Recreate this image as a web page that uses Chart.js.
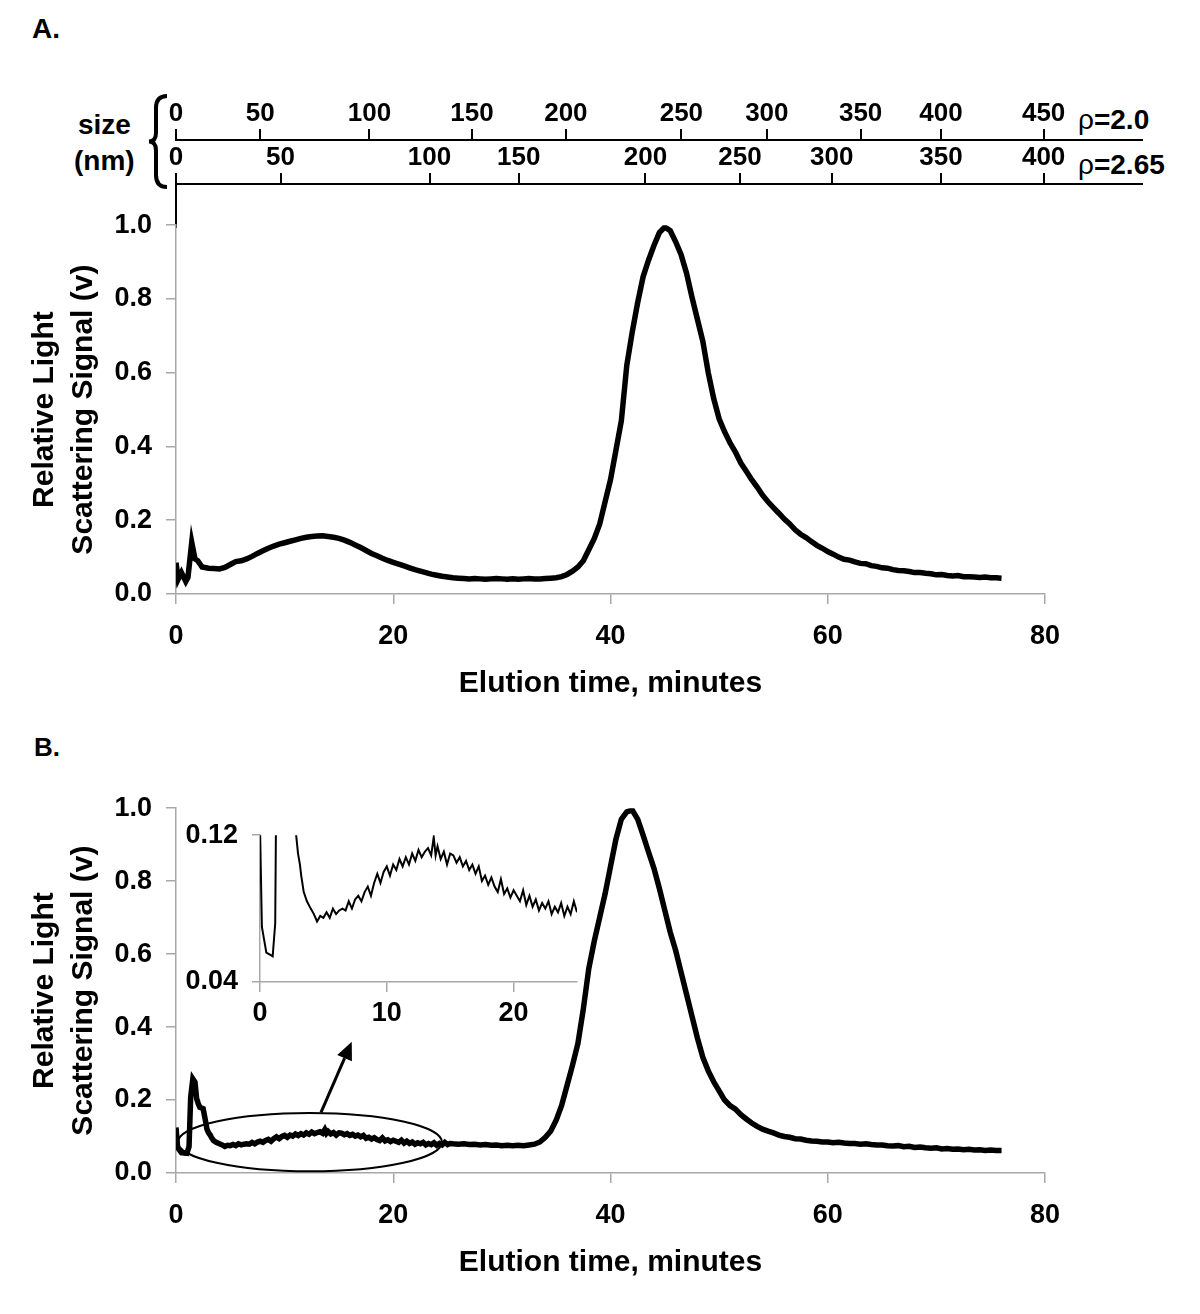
<!DOCTYPE html>
<html>
<head>
<meta charset="utf-8">
<script src="https://cdn.jsdelivr.net/npm/chart.js@4.4.1/dist/chart.umd.min.js"></script>
<style>
body { margin: 0; background: #fff; width: 1200px; height: 1314px; position: relative; overflow: hidden;
       font-family: "Liberation Sans", Arial, sans-serif; }
canvas { position: absolute; }
.lbl { position: absolute; font-weight: bold; line-height: 1; white-space: nowrap; color: #000; }
</style>
</head>
<body>
<div class="lbl" style="left:32px;top:15px;font-size:28px">A.</div>
<div class="lbl" style="left:34px;top:734px;font-size:26px">B.</div>
<div class="lbl" style="left:78px;top:111px;font-size:28px">size</div>
<div class="lbl" style="left:74px;top:147px;font-size:28px">(nm)</div>
<div class="lbl" style="left:1078px;top:106px;font-size:28px"><span style="font-weight:normal">&rho;</span>=2.0</div>
<div class="lbl" style="left:1078px;top:151px;font-size:28px"><span style="font-weight:normal">&rho;</span>=2.65</div>

<canvas id="sizeAxes" width="1200" height="138" style="left:0;top:90px"></canvas>
<canvas id="chartA" width="1200" height="520" style="left:0;top:195px"></canvas>
<canvas id="chartB" width="1200" height="516" style="left:0;top:778px"></canvas>
<canvas id="inset" width="430" height="230" style="left:170px;top:805px"></canvas>

<script>
// panel A trace (elution time in minutes, relative signal)
const aTime = [0, 0.2, 0.5, 0.9, 1.1, 1.45, 1.75, 2, 2.4, 3,
    3.5, 4, 4.5, 5, 5.5, 6, 6.5, 7, 7.5, 8, 8.5, 9, 9.5, 10,
    10.5, 11, 11.5, 12, 12.5, 13, 13.5, 14, 14.5, 15, 15.5, 16, 16.5, 17, 17.5, 18, 18.5, 19, 19.5, 20,
    20.5, 21, 21.5, 22, 22.5, 23, 23.5, 24, 24.5, 25, 25.5, 26, 26.5, 27, 27.5, 28, 28.5, 29, 29.5, 30,
    30.5, 31, 31.5, 32, 32.5, 33, 33.5, 34, 34.5, 35, 35.5, 36, 36.5, 37, 37.5, 38, 38.5, 39, 39.5, 40,
    40.5, 41, 41.5, 42, 42.5, 43, 43.5, 44, 44.5, 45, 45.5, 46, 46.5, 47, 47.5, 48, 48.5, 49, 49.5, 50,
    50.5, 51, 51.5, 52, 52.5, 53, 53.5, 54, 54.5, 55, 55.5, 56, 56.5, 57, 57.5, 58, 58.5, 59, 59.5, 60,
    60.5, 61, 61.5, 62, 62.5, 63, 63.5, 64, 64.5, 65, 65.5, 66, 66.5, 67, 67.5, 68, 68.5, 69, 69.5, 70,
    70.5, 71, 71.5, 72, 72.5, 73, 73.5, 74, 74.5, 75, 75.5, 76];
const aSignal = [0.085, 0.04, 0.058, 0.034, 0.045, 0.14, 0.095, 0.09, 0.073, 0.07,
    0.069, 0.068, 0.072, 0.08, 0.088, 0.09, 0.095, 0.102, 0.11, 0.117, 0.124, 0.13, 0.135, 0.139,
    0.143, 0.147, 0.151, 0.154, 0.156, 0.157, 0.158, 0.156, 0.154, 0.151, 0.146, 0.14, 0.133, 0.126, 0.118, 0.11, 0.104, 0.097, 0.091, 0.086,
    0.081, 0.076, 0.071, 0.066, 0.062, 0.058, 0.054, 0.051, 0.048, 0.046, 0.044, 0.043, 0.042, 0.041, 0.042, 0.041, 0.04, 0.041, 0.042, 0.041,
    0.04, 0.041, 0.04, 0.041, 0.042, 0.041, 0.041, 0.042, 0.043, 0.044, 0.047, 0.053, 0.062, 0.073, 0.09, 0.12, 0.15, 0.189, 0.25, 0.31,
    0.39, 0.47, 0.62, 0.71, 0.79, 0.86, 0.905, 0.945, 0.98, 0.995, 0.985, 0.955, 0.92, 0.87, 0.805, 0.745, 0.685, 0.6, 0.53, 0.475,
    0.44, 0.41, 0.385, 0.355, 0.333, 0.31, 0.29, 0.268, 0.25, 0.234, 0.219, 0.203, 0.19, 0.174, 0.162, 0.153, 0.142, 0.132, 0.124, 0.115,
    0.108, 0.1, 0.094, 0.092, 0.087, 0.083, 0.082, 0.077, 0.075, 0.071, 0.07, 0.066, 0.064, 0.063, 0.061, 0.058, 0.058, 0.056, 0.055, 0.052,
    0.053, 0.05, 0.049, 0.05, 0.047, 0.047, 0.046, 0.045, 0.046, 0.044, 0.044, 0.043];

// panel B trace (also used by the inset)
const bTime = [0, 0.15, 0.5, 0.75, 1, 1.2, 1.35, 1.55, 1.75, 1.9,
    2.05, 2.2, 2.5, 2.7, 2.85, 3, 3.15, 3.25, 3.45, 3.7,
    4, 4.25, 4.5, 4.75, 5, 5.25, 5.5, 5.75, 6, 6.25,
    6.5, 6.75, 7, 7.25, 7.5, 7.75, 8, 8.25, 8.5, 8.75,
    9, 9.25, 9.5, 9.75, 10, 10.25, 10.5, 10.75, 11, 11.25,
    11.5, 11.75, 12, 12.25, 12.5, 12.75, 13, 13.25, 13.5, 13.7,
    13.85, 14, 14.25, 14.5, 14.75, 15, 15.25, 15.5, 15.75, 16,
    16.25, 16.5, 16.75, 17, 17.25, 17.5, 17.75, 18, 18.25, 18.5,
    18.75, 19, 19.25, 19.5, 19.75, 20, 20.25, 20.5, 20.75, 21,
    21.25, 21.5, 21.75, 22, 22.25, 22.5, 22.75, 23, 23.25, 23.5,
    23.75, 24, 24.25, 24.5, 24.75, 25, 25.2, 25.5, 26, 26.5,
    27, 27.5, 28, 28.5, 29, 29.5, 30, 30.5, 31, 31.5,
    32, 32.5, 33, 33.5, 34, 34.5, 35, 35.5, 36, 36.5,
    37, 37.5, 38, 38.5, 39, 39.5, 40, 40.5, 41, 41.5,
    42, 42.5, 43, 43.5, 44, 44.5, 45, 45.5, 46, 46.5,
    47, 47.5, 48, 48.5, 49, 49.5, 50, 50.5, 51, 51.5,
    52, 52.5, 53, 53.5, 54, 54.5, 55, 55.5, 56, 56.5,
    57, 57.5, 58, 58.5, 59, 59.5, 60, 60.5, 61, 61.5,
    62, 62.5, 63, 63.5, 64, 64.5, 65, 65.5, 66, 66.5,
    67, 67.5, 68, 68.5, 69, 69.5, 70, 70.5, 71, 71.5,
    72, 72.5, 73, 73.5, 74, 74.5, 75, 75.5, 76];
const bSignal = [0.125, 0.07, 0.056, 0.055, 0.054, 0.072, 0.208, 0.258, 0.249, 0.204,
    0.19, 0.18, 0.176, 0.145, 0.12, 0.11, 0.104, 0.098, 0.089, 0.084,
    0.08, 0.077, 0.073, 0.076, 0.075, 0.078, 0.075, 0.08, 0.077, 0.079,
    0.08, 0.079, 0.084, 0.08, 0.085, 0.087, 0.084, 0.089, 0.092, 0.087,
    0.094, 0.099, 0.094, 0.1, 0.103, 0.098, 0.104, 0.101, 0.107, 0.103,
    0.108, 0.104, 0.11, 0.106, 0.112, 0.108, 0.111, 0.113, 0.109, 0.119,
    0.109, 0.114, 0.107, 0.111, 0.104, 0.11, 0.109, 0.105, 0.108, 0.103,
    0.106, 0.101, 0.104, 0.099, 0.103, 0.095, 0.098, 0.093, 0.097, 0.092,
    0.089, 0.096, 0.088, 0.091, 0.086, 0.09, 0.087, 0.084, 0.09, 0.082,
    0.087, 0.081, 0.085, 0.079, 0.083, 0.08, 0.084, 0.077, 0.081, 0.078,
    0.083, 0.076, 0.081, 0.077, 0.084, 0.078, 0.081, 0.08, 0.079, 0.08,
    0.078, 0.079, 0.077, 0.078, 0.076, 0.077, 0.075, 0.076, 0.075, 0.076,
    0.075, 0.077, 0.079, 0.085, 0.098, 0.115, 0.145, 0.185, 0.24, 0.295,
    0.355, 0.45, 0.56, 0.635, 0.7, 0.765, 0.84, 0.915, 0.97, 0.99,
    0.995, 0.97, 0.926, 0.88, 0.835, 0.78, 0.72, 0.66, 0.61, 0.55,
    0.49, 0.43, 0.37, 0.317, 0.28, 0.25, 0.225, 0.2, 0.185, 0.175,
    0.16, 0.148, 0.137, 0.128, 0.12, 0.115, 0.11, 0.104, 0.1, 0.098,
    0.094, 0.093, 0.09, 0.088, 0.087, 0.085, 0.085, 0.083, 0.084, 0.082,
    0.081, 0.081, 0.079, 0.08, 0.078, 0.077, 0.077, 0.075, 0.074, 0.075,
    0.072, 0.073, 0.07, 0.071, 0.069, 0.068, 0.069, 0.066, 0.067, 0.065,
    0.066, 0.064, 0.065, 0.063, 0.064, 0.062, 0.063, 0.062, 0.062];

// size scales above panel A: elution time (min) where each size falls
const sizeTime20 = [0, 7.75, 17.8, 27.24, 35.87, 46.5, 54.36, 62.99, 70.39, 79.83];
const sizeLabel20 = [0, 50, 100, 150, 200, 250, 300, 350, 400, 450];
const sizeTime265 = [0, 9.62, 23.33, 31.54, 43.19, 51.89, 60.34, 70.39, 79.83];
const sizeLabel265 = [0, 50, 100, 150, 200, 250, 300, 350, 400];

const xTicks = [0, 20, 40, 60, 80];
const yTicks = [0, 0.2, 0.4, 0.6, 0.8, 1.0];
const insetXTicks = [0, 10, 20];
const insetYTicks = [0.04, 0.12];

Chart.defaults.font.family = '"Liberation Sans", Arial, sans-serif';
Chart.defaults.color = '#000';
Chart.defaults.animation = false;

const gray = '#a8a8a8';
const tickFont = {size: 27, weight: 'bold'};
const sizeFont = {size: 26, weight: 'bold'};

function pts(t, v, maxT) {
    const out = [];
    t.forEach((x, i) => { if (maxT === undefined || x <= maxT) out.push({x: x, y: v[i]}); });
    return out;
}

function mainOptions(padTop) {
    return {
        responsive: false,
        layout: {padding: {left: 0, top: padTop, right: 155, bottom: 0}},
        plugins: {legend: {display: false}, tooltip: {enabled: false}},
        elements: {point: {radius: 0}, line: {tension: 0}},
        scales: {
            x: {
                type: 'linear', min: 0, max: 80,
                afterBuildTicks: s => { s.ticks = xTicks.map(v => ({value: v})); },
                afterFit: s => { s.height = 121; },
                ticks: {font: tickFont, padding: 16, maxRotation: 0},
                grid: {drawOnChartArea: false, color: gray, tickColor: gray, tickLength: 10, lineWidth: 1.5},
                border: {color: gray, width: 1.5},
                title: {display: true, text: 'Elution time, minutes', font: {size: 30, weight: 'bold'},
                        padding: {top: 0, bottom: 13}}
            },
            y: {
                type: 'linear', min: 0, max: 1,
                afterBuildTicks: s => { s.ticks = yTicks.map(v => ({value: v})); },
                afterFit: s => { s.width = 176; },
                ticks: {font: tickFont, padding: 14, callback: v => v.toFixed(1)},
                grid: {drawOnChartArea: false, color: gray, tickColor: gray, tickLength: 10, lineWidth: 1.5},
                border: {color: gray, width: 1.5},
                title: {display: true, text: ['Relative Light', 'Scattering Signal (v)'],
                        font: {size: 30, weight: 'bold', lineHeight: 1.3}, padding: {top: 25, bottom: 0}}
            }
        }
    };
}

// size axes (two stacked top axes)
const braceLine = {
    id: 'braceLine',
    afterDraw(chart) {
        const ctx = chart.ctx;
        const L = chart.chartArea.left;
        const T = chart.scales.s20.top;
        const B = chart.chartArea.top + 3;
        const M = (T + B) / 2;
        ctx.save();
        ctx.strokeStyle = '#000';
        ctx.lineWidth = 4;
        ctx.beginPath();
        ctx.moveTo(L - 9, T);
        ctx.quadraticCurveTo(L - 20, T, L - 20, T + 12);
        ctx.lineTo(L - 20, M - 9);
        ctx.quadraticCurveTo(L - 20, M, L - 27, M);
        ctx.quadraticCurveTo(L - 20, M, L - 20, M + 9);
        ctx.lineTo(L - 20, B - 12);
        ctx.quadraticCurveTo(L - 20, B, L - 9, B);
        ctx.stroke();
        ctx.restore();
    }
};

function sizeAxis(times, labels, weight) {
    return {
        type: 'linear', axis: 'x', position: 'top', weight: weight, min: 0, max: 88.88,
        afterBuildTicks: s => { s.ticks = times.map(v => ({value: v})); },
        afterFit: s => { s.height = 44; },
        ticks: {font: sizeFont, padding: 0, autoSkip: false, maxRotation: 0,
                callback: (v, i) => labels[i]},
        grid: {drawOnChartArea: false, color: '#000', tickLength: 11, lineWidth: 2},
        border: {color: '#000', width: 2}
    };
}

new Chart(document.getElementById('sizeAxes'), {
    type: 'line',
    data: {datasets: [{data: [], xAxisID: 's265', yAxisID: 'y'}]},
    options: {
        responsive: false,
        layout: {padding: {left: 176, top: 6, right: 58, bottom: 0}},
        plugins: {legend: {display: false}, tooltip: {enabled: false}},
        scales: {
            s20: sizeAxis(sizeTime20, sizeLabel20, 2),
            s265: sizeAxis(sizeTime265, sizeLabel265, 1),
            y: {
                type: 'linear', min: 0, max: 1,
                afterFit: s => { s.width = 0; },
                ticks: {display: false},
                grid: {display: false},
                border: {color: '#000', width: 2}
            }
        }
    },
    plugins: [braceLine]
});

new Chart(document.getElementById('chartA'), {
    type: 'line',
    data: {datasets: [{data: pts(aTime, aSignal), borderColor: '#000', borderWidth: 5.5, fill: false}]},
    options: mainOptions(28)
});

// ellipse round the early part of B and the arrow pointing to the inset
const ellipseNote = {
    id: 'ellipseNote',
    afterDatasetsDraw(chart) {
        const {ctx, scales: {x, y}} = chart;
        const cx = x.getPixelForValue(12.33), cy = y.getPixelForValue(0.0845);
        const rx = x.getPixelForValue(12.33 + 12.15) - cx;
        const ry = y.getPixelForValue(0.0845 - 0.08) - cy;
        ctx.save();
        ctx.strokeStyle = '#000';
        ctx.lineWidth = 2;
        ctx.beginPath();
        ctx.ellipse(cx, cy, rx, ry, 0, 0, Math.PI * 2);
        ctx.stroke();
        const x0 = x.getPixelForValue(13.35), y0 = y.getPixelForValue(0.166);
        const x1 = x.getPixelForValue(16.18), y1 = y.getPixelForValue(0.36);
        const ang = Math.atan2(y1 - y0, x1 - x0);
        const head = 18, half = 8;
        const bx = x1 - head * Math.cos(ang), by = y1 - head * Math.sin(ang);
        ctx.lineWidth = 3;
        ctx.beginPath();
        ctx.moveTo(x0, y0);
        ctx.lineTo(bx, by);
        ctx.stroke();
        ctx.fillStyle = '#000';
        ctx.beginPath();
        ctx.moveTo(x1, y1);
        ctx.lineTo(bx + half * Math.sin(ang), by - half * Math.cos(ang));
        ctx.lineTo(bx - half * Math.sin(ang), by + half * Math.cos(ang));
        ctx.closePath();
        ctx.fill();
        ctx.restore();
    }
};

new Chart(document.getElementById('chartB'), {
    type: 'line',
    data: {datasets: [{data: pts(bTime, bSignal), borderColor: '#000', borderWidth: 5.5, fill: false}]},
    options: mainOptions(28),
    plugins: [ellipseNote]
});

// inset: first 25 minutes of B, expanded
new Chart(document.getElementById('inset'), {
    type: 'line',
    data: {datasets: [{data: pts(bTime, bSignal, 25.5), borderColor: '#000', borderWidth: 2, fill: false}]},
    options: {
        responsive: false,
        layout: {padding: {left: 0, top: 22, right: 23, bottom: 0}},
        plugins: {legend: {display: false}, tooltip: {enabled: false}},
        elements: {point: {radius: 0}, line: {tension: 0}},
        scales: {
            x: {
                type: 'linear', min: 0, max: 25,
                afterBuildTicks: s => { s.ticks = insetXTicks.map(v => ({value: v})); },
                afterFit: s => { s.height = 53; },
                ticks: {font: tickFont, padding: 5, maxRotation: 0},
                grid: {drawOnChartArea: false, color: gray, tickColor: gray, tickLength: 10, lineWidth: 1.5},
                border: {color: gray, width: 1.5}
            },
            y: {
                type: 'linear', min: 0.04, max: 0.12,
                afterBuildTicks: s => { s.ticks = insetYTicks.map(v => ({value: v})); },
                afterFit: s => { s.width = 90; },
                ticks: {font: tickFont, padding: 14, callback: v => v.toFixed(2)},
                grid: {drawOnChartArea: false, color: gray, tickColor: gray, tickLength: 8, lineWidth: 1.5},
                border: {color: gray, width: 1.5}
            }
        }
    }
});
</script>
</body>
</html>
